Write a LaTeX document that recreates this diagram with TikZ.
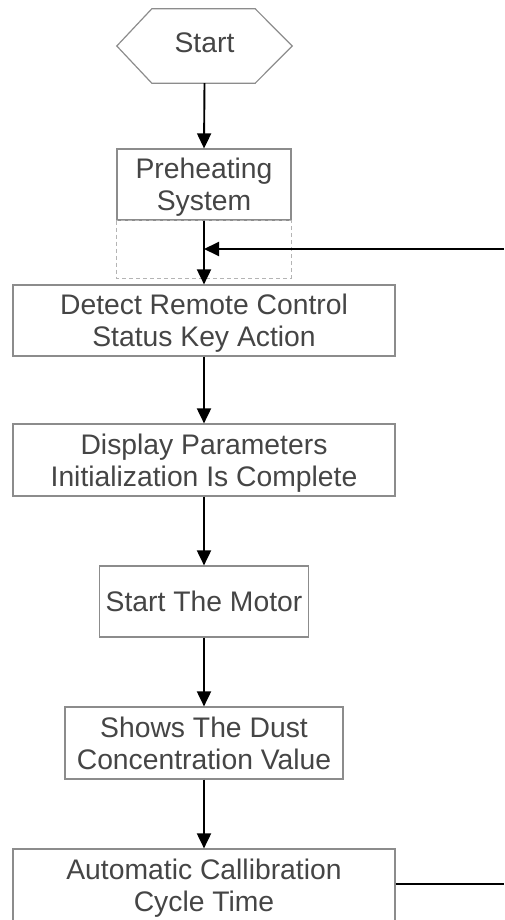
\documentclass[tikz,border=0pt]{standalone}
\usepackage{fontspec}
\setmainfont{Liberation Sans}
\usetikzlibrary{arrows.meta}
\definecolor{boxgray}{HTML}{8C8C8C}
\definecolor{dashgray}{HTML}{B4B4B4}
\definecolor{txtgray}{HTML}{454545}
\newcommand{\fsTop}{\rule{0pt}{28pt}}
\newcommand{\fsBot}{\rule[-8pt]{0pt}{8pt}}
\begin{document}
\begin{tikzpicture}[x=1pt,y=-1pt,
  procbox/.style={draw=boxgray, line width=1.2pt, fill=white, text=txtgray, align=center, inner sep=0pt, font=\fontsize{28.3}{32}\selectfont},
  termtext/.style={text=txtgray, inner sep=0pt, font=\fontsize{28.3}{32}\selectfont},
  flow/.style={line width=1.9pt, -{Triangle[length=15pt,width=14pt]}},
  plainline/.style={line width=1.9pt}]
\useasboundingbox (0,0) rectangle (504,920);
\clip (0,0) rectangle (504,920);
% start terminal (hexagon)
\node[termtext, minimum width=175pt, minimum height=74pt] (start) at (204.5,46) {Start\rule[-6pt]{0pt}{6pt}};
\draw[boxgray, line width=1.2pt] (start.west) -- ([xshift=35pt]start.north west) -- ([xshift=-37pt]start.north east) -- (start.east) -- ([xshift=-37pt]start.south east) -- ([xshift=35pt]start.south west) -- cycle;
% process boxes
\node[procbox, minimum width=174pt, minimum height=71pt] (pre) at (204,184.5) {\fsTop Preheating\\System\fsBot};
\draw[dashgray, line width=1pt, dash pattern=on 4pt off 3pt] (pre.south west) rectangle (291,278);
\node[procbox, minimum width=382pt, minimum height=71pt] (detect) at (204,320.5) {\fsTop Detect Remote Control\\Status Key Action\fsBot};
\node[procbox, minimum width=382pt, minimum height=72pt] (disp) at (204,460) {\fsTop Display Parameters\\Initialization Is Complete\fsBot};
\node[procbox, minimum width=209pt, minimum height=71pt] (motor) at (204,601.5) {\fsTop Start The Motor\fsBot};
\node[procbox, minimum width=278pt, minimum height=72pt] (dust) at (204,743) {\fsTop Shows The Dust\\Concentration Value\fsBot};
\node[procbox, minimum width=382pt, minimum height=72pt] (auto) at (204,885) {\fsTop Automatic Callibration\\Cycle Time\fsBot};
% connectors
\coordinate (join) at (204,249);
\coordinate (retin) at (504,249);
\coordinate (retout) at (504,884);
\draw[flow] (start.south) -- (pre.north);
\draw[flow] (pre.south) -- (detect.north);
\draw[flow] (retin) -- (join);
\draw[flow] (detect.south) -- (disp.north);
\draw[flow] (disp.south) -- (motor.north);
\draw[flow] (motor.south) -- (dust.north);
\draw[flow] (dust.south) -- (auto.north);
\draw[plainline] (auto.east |- retout) -- (retout);
\end{tikzpicture}
\end{document}
